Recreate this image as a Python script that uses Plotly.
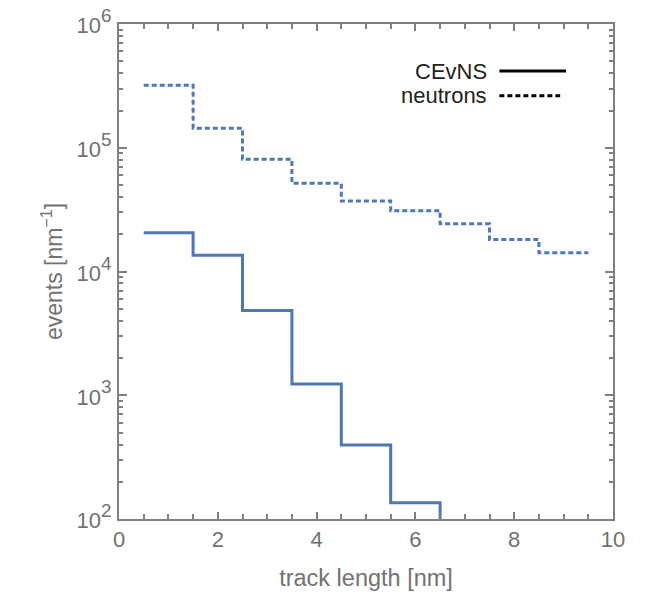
import plotly.graph_objects as go

# bin edges (nm) and per-bin values
cevns_edges = [0.5, 1.5, 2.5, 3.5, 4.5, 5.5, 6.5]
cevns_values = [2.06e4, 1.35e4, 4.85e3, 1.23e3, 396, 135, 20]  # last bin falls below 10^2
neutron_edges = [0.5, 1.5, 2.5, 3.5, 4.5, 5.5, 6.5, 7.5, 8.5, 9.5]
neutron_values = [3.2e5, 1.44e5, 8.07e4, 5.16e4, 3.71e4, 3.10e4, 2.43e4, 1.81e4, 1.42e4]

y_tick_vals = [1e2, 1e3, 1e4, 1e5, 1e6]
y_tick_exps = ["2", "3", "4", "5", "6"]
y_tick_text = ["<span style='font-size:22px'>10</span><sup>%s</sup>" % e for e in y_tick_exps]
x_tick_vals = [0, 2, 4, 6, 8, 10]

blue = "#4f76b5"
grey = "#727272"

fig = go.Figure()
fig.add_trace(go.Scatter(
    x=cevns_edges, y=cevns_values, mode="lines", line_shape="hv",
    line=dict(color=blue, width=3), showlegend=False))
fig.add_trace(go.Scatter(
    x=neutron_edges, y=neutron_values + [neutron_values[-1]], mode="lines", line_shape="hv",
    line=dict(color=blue, width=3, dash="5px,3px"), showlegend=False))

minor_y = [m * 10 ** e for e in range(2, 6) for m in range(2, 10)]

axis_common = dict(showline=True, linecolor="#808080", linewidth=2, mirror="ticks",
                   ticks="inside", tickcolor="#808080", tickwidth=1.5, showgrid=False,
                   zeroline=False, automargin=False)

fig.update_xaxes(range=[0, 10], tickvals=x_tick_vals, ticklen=7,
                 tickfont=dict(size=22, color=grey),
                 minor=dict(dtick=0.5, ticks="inside", ticklen=5, tickcolor="#808080", showgrid=False),
                 title=dict(text="track length [nm]", font=dict(size=23.5, color=grey), standoff=18),
                 **axis_common)
fig.update_yaxes(type="log", range=[2, 6], tickvals=y_tick_vals, ticktext=y_tick_text, ticklen=8,
                 tickfont=dict(size=27, color=grey), ticklabeloverflow="allow",
                 minor=dict(tickvals=minor_y, ticks="inside", ticklen=4, tickcolor="#808080", showgrid=False),
                 title=dict(text="events [nm<sup>−1</sup>]", font=dict(size=23, color=grey), standoff=8),
                 **axis_common)

# custom legend: label left of the line sample
legend_items = [("CEvNS", "solid", 0.905), ("neutrons", "dot", 0.855)]
for label, dash, yp in legend_items:
    fig.add_annotation(x=0.748, y=yp, xref="paper", yref="paper", text=label, showarrow=False,
                       xanchor="right", yanchor="middle", font=dict(size=22, color="#222222"))
    fig.add_shape(type="line", xref="paper", yref="paper", x0=0.770, x1=(0.905 if dash == "solid" else 0.893),
                  y0=yp, y1=yp, line=dict(color="black", width=3,
                                          dash=("solid" if dash == "solid" else "5px,3px")))

fig.update_layout(width=646, height=595, margin=dict(l=111, r=41, t=16, b=84, autoexpand=False),
                  plot_bgcolor="white", paper_bgcolor="white",
                  font=dict(family="Liberation Sans, Arial, sans-serif", color=grey))

fig.write_html("out.html")
